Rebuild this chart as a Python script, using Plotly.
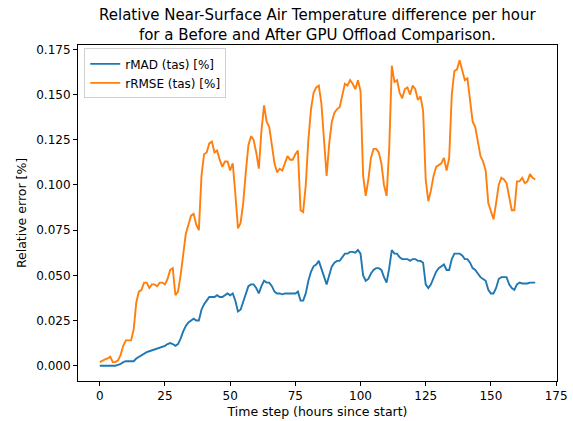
import plotly.graph_objects as go

hours = list(range(168))

rmad = [
    0.0, 0.0, 0.0, 0.0, 0.0, 0.0, 0.0, 0.0005, 0.001, 0.002,
    0.0025, 0.0025, 0.0025, 0.0025, 0.004, 0.005, 0.006, 0.007, 0.0075, 0.008,
    0.0085, 0.009, 0.0095, 0.010, 0.0105, 0.011, 0.012, 0.0125, 0.012, 0.011,
    0.012, 0.015, 0.019, 0.022, 0.024, 0.025, 0.026, 0.025, 0.025, 0.031,
    0.034, 0.036, 0.038, 0.038, 0.038, 0.039, 0.038, 0.038, 0.039, 0.040,
    0.039, 0.040, 0.036, 0.030, 0.031, 0.035, 0.040, 0.044, 0.045, 0.045,
    0.043, 0.040, 0.044, 0.047, 0.046, 0.046, 0.044, 0.041, 0.040, 0.040,
    0.0395, 0.040, 0.040, 0.040, 0.040, 0.040, 0.041, 0.036, 0.036, 0.040,
    0.047, 0.052, 0.055, 0.056, 0.058, 0.054, 0.050, 0.045, 0.050, 0.055,
    0.057, 0.058, 0.058, 0.060, 0.062, 0.062, 0.063, 0.063, 0.0625, 0.064,
    0.062, 0.050, 0.047, 0.048, 0.051, 0.053, 0.054, 0.054, 0.053, 0.049,
    0.046, 0.054, 0.064, 0.062, 0.062, 0.060, 0.059, 0.059, 0.059, 0.058,
    0.059, 0.059, 0.058, 0.058, 0.057, 0.045, 0.043, 0.045, 0.049, 0.052,
    0.054, 0.055, 0.056, 0.053, 0.053, 0.059, 0.062, 0.062, 0.062, 0.061,
    0.059, 0.059, 0.057, 0.054, 0.053, 0.051, 0.049, 0.048, 0.047, 0.042,
    0.040, 0.040, 0.043, 0.048, 0.049, 0.049, 0.049, 0.045, 0.043, 0.042,
    0.045, 0.046, 0.0455, 0.0455, 0.0455, 0.046, 0.046, 0.046,
]

rrmse = [
    0.002, 0.003, 0.0035, 0.004, 0.005, 0.002, 0.002, 0.003, 0.006, 0.011,
    0.014, 0.014, 0.014, 0.020, 0.035, 0.041, 0.042, 0.046, 0.046, 0.043,
    0.045, 0.045, 0.044, 0.046, 0.046, 0.045, 0.048, 0.053, 0.054, 0.039,
    0.041, 0.050, 0.062, 0.073, 0.078, 0.083, 0.084, 0.078, 0.075, 0.105,
    0.117, 0.118, 0.123, 0.124, 0.118, 0.119, 0.114, 0.110, 0.113, 0.113,
    0.108, 0.112, 0.095, 0.076, 0.079, 0.090, 0.107, 0.122, 0.127, 0.125,
    0.118, 0.109, 0.130, 0.144, 0.135, 0.132, 0.122, 0.112, 0.107, 0.109,
    0.108, 0.112, 0.116, 0.114, 0.114, 0.117, 0.119, 0.086, 0.085, 0.100,
    0.125, 0.142, 0.151, 0.154, 0.155, 0.145, 0.122, 0.105, 0.123, 0.135,
    0.140, 0.142, 0.143, 0.150, 0.156, 0.155, 0.158, 0.156, 0.153, 0.158,
    0.152, 0.105, 0.094, 0.103, 0.115, 0.120, 0.120, 0.118, 0.112, 0.100,
    0.094, 0.120, 0.166, 0.157, 0.158, 0.151, 0.148, 0.153, 0.154, 0.150,
    0.155, 0.153, 0.147, 0.149, 0.141, 0.103, 0.091, 0.097, 0.105, 0.110,
    0.111, 0.112, 0.115, 0.108, 0.115, 0.150, 0.163, 0.164, 0.169, 0.164,
    0.158, 0.159, 0.148, 0.135, 0.132, 0.125, 0.116, 0.113, 0.108, 0.090,
    0.085, 0.081, 0.090, 0.100, 0.104, 0.103, 0.101, 0.093, 0.086, 0.086,
    0.102, 0.102, 0.104, 0.101, 0.102, 0.106, 0.104, 0.103,
]

x_ticks = [0, 25, 50, 75, 100, 125, 150, 175]
y_ticks = [0.000, 0.025, 0.050, 0.075, 0.100, 0.125, 0.150, 0.175]

title_text = ("Relative Near-Surface Air Temperature difference per hour<br>"
              "for a Before and After GPU Offload Comparison.")

font = "DejaVu Sans"

fig = go.Figure()
fig.add_trace(go.Scatter(x=hours, y=rmad, mode="lines", name="rMAD (tas) [%]",
                         line=dict(color="#1f77b4", width=1.9)))
fig.add_trace(go.Scatter(x=hours, y=rrmse, mode="lines", name="rRMSE (tas) [%]",
                         line=dict(color="#ff7f0e", width=1.9)))

fig.update_layout(
    width=573, height=421,
    margin=dict(l=78, r=16, t=45, b=40, autoexpand=False),
    paper_bgcolor="white", plot_bgcolor="white",
    font=dict(family=font, size=12, color="black"),
    showlegend=True,
    legend=dict(
        x=0.013, y=0.99, xanchor="left", yanchor="top",
        bgcolor="rgba(255,255,255,0.8)", bordercolor="#d0d0d0", borderwidth=1,
        font=dict(family=font, size=12, color="black"),
        tracegroupgap=0,
    ),
    annotations=[dict(
        text=title_text, xref="paper", yref="paper", x=0.5, y=1.0,
        xanchor="center", yanchor="bottom", yshift=-1, showarrow=False,
        align="center", font=dict(family=font, size=15, color="black"),
    )],
)

fig.update_xaxes(
    range=[-8.35, 175.35], tickvals=x_ticks, ticktext=[str(v) for v in x_ticks],
    showgrid=False, zeroline=False, automargin=False,
    showline=True, mirror=True, linecolor="black", linewidth=1,
    ticks="outside", ticklen=4, tickcolor="black", tickwidth=1,
    tickfont=dict(family=font, size=12, color="black"),
    title=dict(text="Time step (hours since start)", font=dict(family=font, size=12.5, color="black"), standoff=4),
)
fig.update_yaxes(
    range=[-0.00845, 0.17745], tickvals=y_ticks, ticktext=[f"{v:.3f}" for v in y_ticks],
    showgrid=False, zeroline=False, automargin=False,
    showline=True, mirror=True, linecolor="black", linewidth=1,
    ticks="outside", ticklen=4, tickcolor="black", tickwidth=1,
    tickfont=dict(family=font, size=12, color="black"),
    title=dict(text="Relative error [%]", font=dict(family=font, size=12.5, color="black"), standoff=6),
)

fig.write_html("out.html")
